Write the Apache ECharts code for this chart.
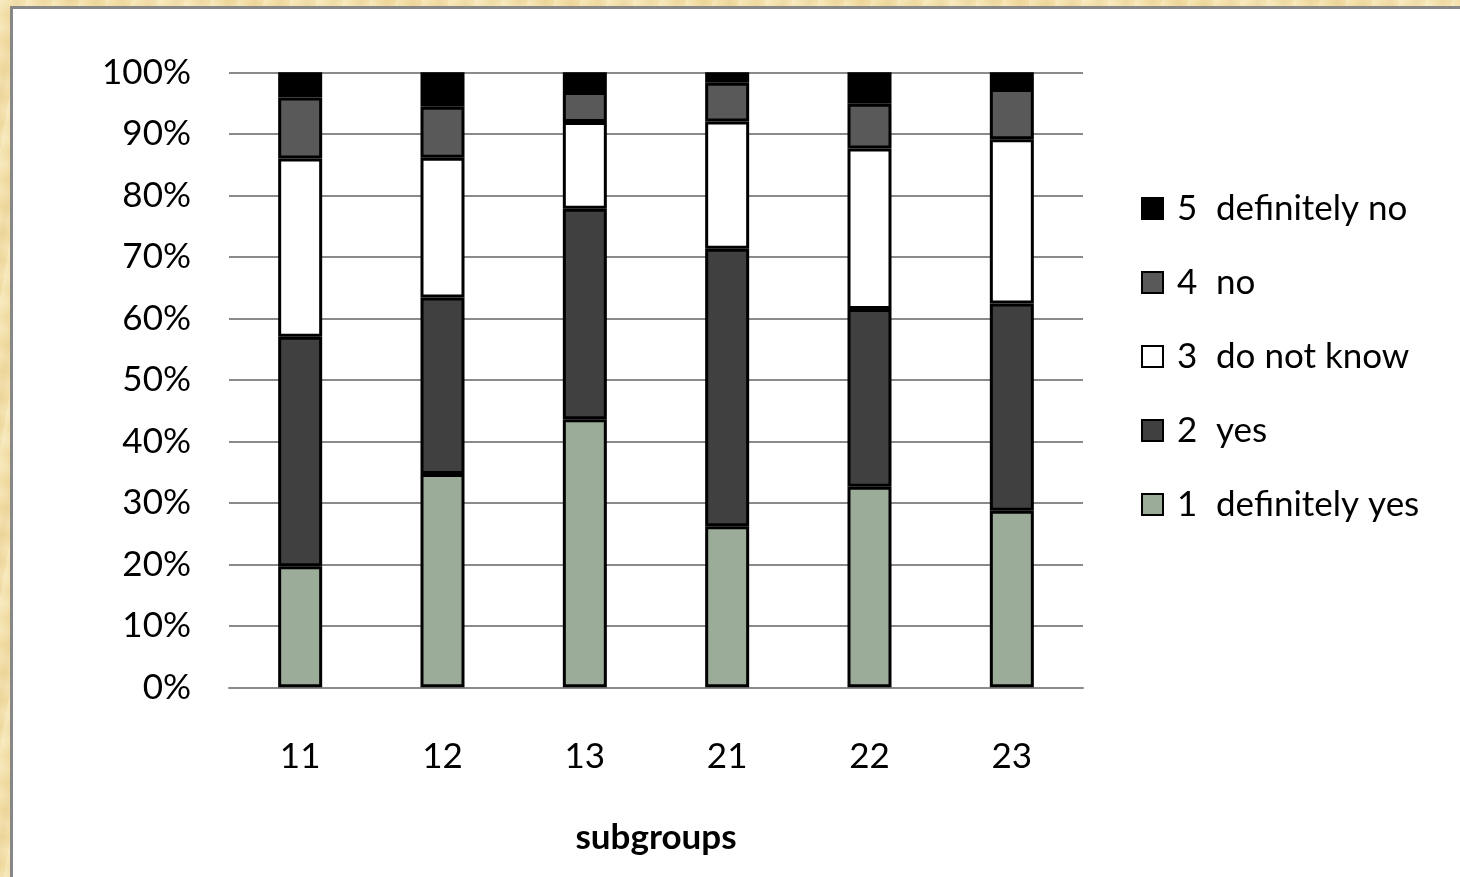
<!DOCTYPE html>
<html>
<head>
<meta charset="utf-8">
<script src="https://cdn.jsdelivr.net/npm/echarts@6/dist/echarts.min.js"></script>
<style>
  html, body { margin: 0; padding: 0; }
  body {
    width: 1460px; height: 877px; overflow: hidden;
    background-color: #f2dea6;
    background-image:
      repeating-linear-gradient(100deg, rgba(255,248,220,0.35) 0px, rgba(255,248,220,0) 9px, rgba(214,180,110,0.18) 17px, rgba(255,248,220,0) 26px),
      repeating-linear-gradient(10deg, rgba(255,250,225,0.25) 0px, rgba(230,200,130,0.12) 13px, rgba(255,250,225,0.25) 27px);
  }
  #chart { width: 1460px; height: 877px; }
</style>
</head>
<body>
<div id="chart"></div>
<script>
// Subgroup answers, share of respondents (%)
const categories = ['11', '12', '13', '21', '22', '23'];
const definitelyYes = [19.7, 34.7, 43.6, 26.2, 32.6, 28.7];
const yes           = [37.3, 28.7, 34.2, 45.1, 28.9, 33.7];
const doNotKnow     = [29.0, 22.7, 14.1, 20.7, 26.1, 26.7];
const no            = [9.9, 8.3, 4.9, 6.3, 7.3, 8.2];
const definitelyNo  = [4.1, 5.6, 3.2, 1.7, 5.1, 2.7];

const seriesNames = ['1 definitely yes', '2 yes', '3 do not know', '4 no', '5 definitely no'];
const seriesColors = ['#9bad98', '#404040', '#ffffff', '#595959', '#000000'];
const seriesValues = [definitelyYes, yes, doNotKnow, no, definitelyNo];

const FONT = 'Lato, "Liberation Sans", sans-serif';
const FS = 35;

const chart = echarts.init(document.getElementById('chart'), null, { renderer: 'canvas' });

chart.setOption({
  animation: false,
  textStyle: { fontFamily: FONT },
  graphic: [{
    type: 'rect',
    z: -10,
    shape: { x: 11.5, y: 7.5, width: 1470, height: 890 },
    style: { fill: '#ffffff', stroke: '#878787', lineWidth: 3 },
    silent: true
  }],
  grid: { left: 229, right: 377, top: 72.3, bottom: 189.7 },
  legend: {
    orient: 'vertical',
    left: 1141,
    top: 191,
    padding: 0,
    icon: 'rect',
    itemWidth: 21,
    itemHeight: 21,
    itemGap: 39,
    itemTextGap: 6,
    data: seriesNames.slice().reverse(),
    formatter: function (name) {
      const i = name.indexOf(' ');
      return '{s|}{n|' + name.slice(0, i) + '}{t|' + name.slice(i + 1) + '}';
    },
    textStyle: {
      color: '#000',
      fontFamily: FONT,
      fontSize: FS,
      rich: {
        s: { width: 9, fontSize: FS },
        n: { fontSize: FS, width: 39, fontFamily: FONT, color: '#000' },
        t: { fontSize: FS, fontFamily: FONT, color: '#000' }
      }
    }
  },
  xAxis: {
    type: 'category',
    data: categories,
    name: 'subgroups',
    nameLocation: 'middle',
    nameGap: 133,
    nameTextStyle: { fontSize: 35, fontWeight: 'bold', color: '#000', fontFamily: FONT },
    axisLine: { show: true, lineStyle: { color: '#8a8a8a', width: 2 } },
    axisTick: { show: false },
    axisLabel: { margin: 52, fontSize: FS, color: '#000', fontFamily: FONT }
  },
  yAxis: {
    type: 'value',
    min: 0,
    max: 100,
    interval: 10,
    axisLine: { show: false },
    axisTick: { show: false },
    axisLabel: { formatter: '{value}%', margin: 38, fontSize: FS, color: '#000', fontFamily: FONT },
    splitLine: { show: true, lineStyle: { color: '#8a8a8a', width: 2 } }
  },
  series: seriesNames.map(function (name, i) {
    return {
      name: name,
      type: 'bar',
      stack: 'total',
      barWidth: 44,
      data: seriesValues[i],
      itemStyle: { color: seriesColors[i], borderColor: '#000', borderWidth: 3 }
    };
  })
});
</script>
</body>
</html>
